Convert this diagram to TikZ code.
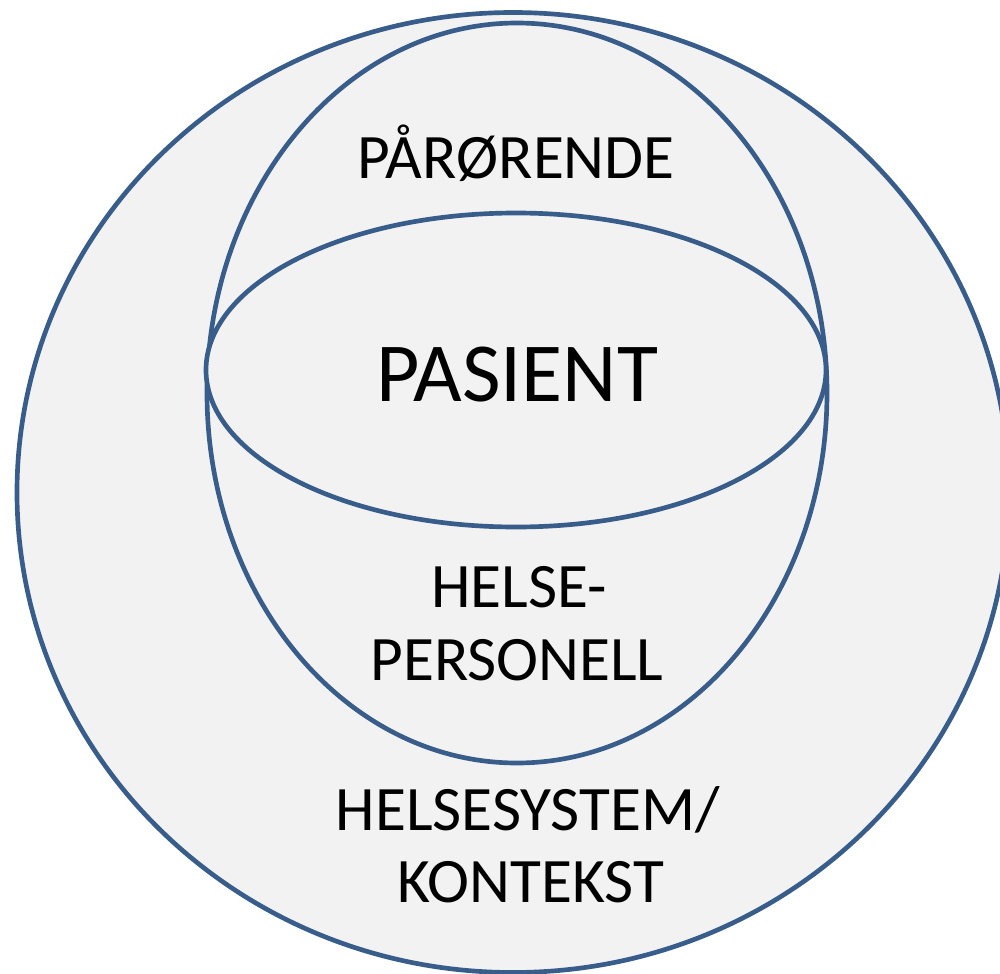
\documentclass[tikz,border=0pt]{standalone}
\usepackage{fontspec}
\setmainfont{Carlito}
\usetikzlibrary{shapes.geometric}
\definecolor{ringblue}{HTML}{385D8A}
\definecolor{ringfill}{HTML}{F2F2F2}
\begin{document}
\begin{tikzpicture}[x=0.75pt,y=-0.75pt,
  ring/.style={ellipse, draw=ringblue, fill=ringfill, line width=3.5pt, inner sep=0pt, outer sep=0pt},
  lbl/.style={anchor=base, inner sep=0pt, font=\fontsize{47.5}{56}\selectfont},
  biglbl/.style={anchor=base, inner sep=0pt, font=\fontsize{63}{75}\selectfont}]
\useasboundingbox[fill=white] (0,0) rectangle (1000,974);
\clip (0,0) rectangle (1000,974);
\node[ring, minimum width=744pt, minimum height=720pt] (context) at (513,492.5) {};
\node[ring, minimum width=465pt, minimum height=555pt] (family) at (517,393) {};
\node[ring, minimum width=465pt, minimum height=235.5pt] (patient) at (516,370) {};
\node[lbl] (parorende) at (516,178) {PÅRØRENDE};
\node[biglbl] (pasient) at (517,401) {PASIENT};
\node[lbl] (helse1) at (519,607) {HELSE-};
\node[lbl] (helse2) at (517,680) {PERSONELL};
\node[lbl] (system1) at (528,830) {HELSESYSTEM/};
\node[lbl] (system2) at (531,902) {KONTEKST};
\end{tikzpicture}
\end{document}
